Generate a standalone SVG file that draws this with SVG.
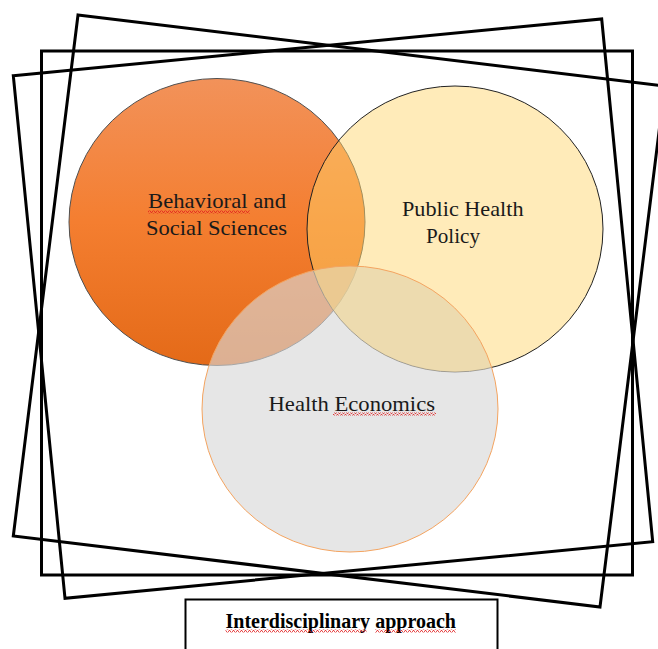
<svg xmlns="http://www.w3.org/2000/svg" width="658" height="649" viewBox="0 0 658 649">
  <style>
    .frame { fill: none; stroke: #000; stroke-width: 3; stroke-linejoin: miter; }
    .lbl { font-family: "Liberation Serif", "Times New Roman", serif; font-size: 22px; fill: #1a1a1a; }
    .title { font-family: "Liberation Serif", "Times New Roman", serif; font-size: 20px; font-weight: bold; fill: #000; }
  </style>
  <defs>
    <linearGradient id="orangeGrad" x1="0" y1="0" x2="0" y2="1">
      <stop offset="0" stop-color="#F2925A"/>
      <stop offset="0.5" stop-color="#F47E30"/>
      <stop offset="1" stop-color="#E46A18"/>
    </linearGradient>
    <pattern id="wave" x="0" y="0" width="4" height="3" patternUnits="userSpaceOnUse">
      <polyline points="0,2.5 1,0.5 2,0.5 3,2.5 4,2.5" fill="none" stroke="#E02020" stroke-width="0.8"/>
    </pattern>
    <clipPath id="clipYellow">
      <ellipse cx="455" cy="229" rx="148" ry="143"/>
    </clipPath>
  </defs>
  <rect width="658" height="649" fill="#fff"/>

  <g id="frames">
    <rect class="frame" x="41.5" y="51" width="591" height="524"/>
    <polygon class="frame" points="78,15 664.7,86 600,607 13.3,536"/>
    <polygon class="frame" points="13.3,75.7 601.7,19 652.7,541.7 65,598.3"/>
  </g>

  <g id="node-behavioral">
    <ellipse cx="217" cy="222" rx="148" ry="143.5" fill="url(#orangeGrad)" stroke="#505050" stroke-width="1"/>
  </g>
  <g id="node-policy">
    <ellipse cx="455" cy="229" rx="148" ry="143" fill="#FFD56A" fill-opacity="0.47" stroke="#222" stroke-width="1"/>
  </g>
  <g id="node-economics">
    <ellipse cx="350" cy="409" rx="148" ry="143" fill="#D8D8D8" fill-opacity="0.64" stroke="none"/>
    <ellipse cx="350" cy="409" rx="148" ry="143" fill="#FFD56A" fill-opacity="0.3" clip-path="url(#clipYellow)"/>
    <ellipse cx="350" cy="409" rx="148" ry="143" fill="none" stroke="#F4A460" stroke-width="1"/>
  </g>

  <g id="labels">
    <text class="lbl" x="148" y="208" textLength="138" lengthAdjust="spacingAndGlyphs">Behavioral and</text>
    <text class="lbl" x="146" y="235" textLength="141" lengthAdjust="spacingAndGlyphs">Social Sciences</text>
    <text class="lbl" x="402" y="216" textLength="121.5" lengthAdjust="spacingAndGlyphs">Public Health</text>
    <text class="lbl" x="426" y="243" textLength="54" lengthAdjust="spacingAndGlyphs">Policy</text>
    <text class="lbl" x="268.5" y="410.5" textLength="166.5" lengthAdjust="spacingAndGlyphs">Health Economics</text>
  </g>

  <g id="node-title">
    <rect x="185.5" y="599.5" width="312" height="60" fill="#fff" stroke="#000" stroke-width="2"/>
    <text class="title" x="225.5" y="627.5" textLength="230.5" lengthAdjust="spacingAndGlyphs">Interdisciplinary approach</text>
  </g>

  <g id="spellcheck">
    <rect x="148" y="210.5" width="102" height="3" fill="url(#wave)"/>
    <rect x="333" y="412.5" width="103" height="3" fill="url(#wave)"/>
    <rect x="225.5" y="629.5" width="141" height="3" fill="url(#wave)"/>
    <rect x="375" y="629.5" width="81" height="3" fill="url(#wave)"/>
  </g>
</svg>
